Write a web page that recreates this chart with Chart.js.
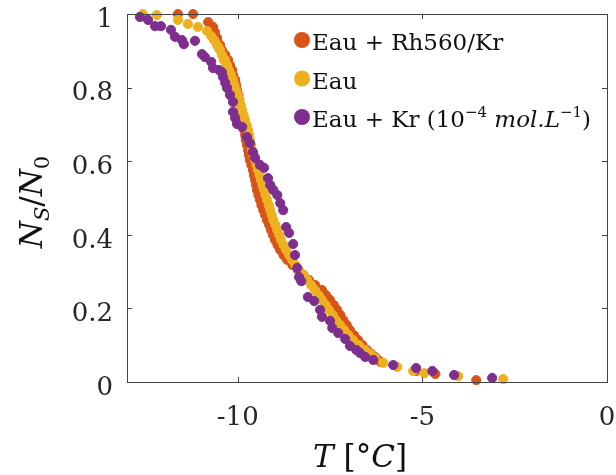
<!DOCTYPE html>
<html>
<head>
<meta charset="utf-8">
<script src="https://cdn.jsdelivr.net/npm/chart.js@4.4.1/dist/chart.umd.min.js"></script>
<style>
  body { margin: 0; background: #fff; }
  #wrap { width: 616px; height: 475px; }
</style>
</head>
<body>
<div id="wrap"><canvas id="grafico"></canvas></div>
<script>
// Eau + Rh560/Kr
const rhX = [-11.62, -11.21, -10.80, -10.67, -10.62, -10.56, -10.48, -10.43, -10.34, -10.26, -10.21, -10.15, -10.13, -10.07,
  -10.04, -10.02, -9.98, -9.96, -9.93, -9.91, -9.88, -9.86, -9.84, -9.83, -9.80, -9.78, -9.75, -9.72, -9.70, -9.67,
  -9.63, -9.59, -9.56, -9.53, -9.50, -9.48, -9.44, -9.40, -9.36, -9.31, -9.26, -9.21, -9.15, -9.10, -9.05, -8.99,
  -8.92, -8.85, -8.76, -8.66, -8.52, -8.37, -8.22, -8.07, -7.90, -7.72, -7.61, -7.50, -7.40, -7.31, -7.22, -7.14,
  -7.05, -6.96, -6.85, -6.74, -6.62, -6.50, -6.39, -6.28, -6.20, -6.12, -5.17, -4.65, -3.54];
const rhY = [1.0, 1.0, 0.978, 0.965, 0.951, 0.935, 0.916, 0.902, 0.889, 0.875, 0.861, 0.848, 0.834, 0.821,
  0.807, 0.793, 0.780, 0.766, 0.752, 0.739, 0.725, 0.712, 0.698, 0.685, 0.671, 0.658, 0.644, 0.630, 0.617, 0.603,
  0.590, 0.576, 0.562, 0.549, 0.535, 0.522, 0.508, 0.495, 0.481, 0.467, 0.454, 0.440, 0.427, 0.413, 0.400, 0.386,
  0.372, 0.359, 0.345, 0.332, 0.318, 0.304, 0.291, 0.277, 0.263, 0.250, 0.236, 0.223, 0.209, 0.196, 0.182, 0.168,
  0.155, 0.141, 0.127, 0.114, 0.100, 0.087, 0.077, 0.068, 0.060, 0.054, 0.030, 0.022, 0.005];

// Eau
const eauX = [-12.57, -12.19, -11.62, -11.35, -11.08, -10.83, -10.72, -10.64, -10.56, -10.52, -10.48, -10.43, -10.38,
  -10.34, -10.29, -10.24, -10.18, -10.13, -10.09, -10.05, -10.00, -9.96, -9.92, -9.88, -9.84, -9.80, -9.76, -9.72,
  -9.69, -9.67, -9.64, -9.61, -9.57, -9.53, -9.49, -9.45, -9.41, -9.37, -9.33, -9.29, -9.25, -9.21, -9.16, -9.12,
  -9.08, -9.04, -8.98, -8.93, -8.88, -8.83, -8.76, -8.69, -8.61, -8.53, -8.44, -8.34, -8.23, -8.12, -8.01, -7.91,
  -7.81, -7.72, -7.62, -7.53, -7.43, -7.34, -7.23, -7.12, -7.00, -6.88, -6.72, -6.55, -6.40, -6.28, -6.06, -5.68,
  -5.25, -4.95, -4.03, -2.81];
const eauY = [1.0, 0.997, 0.984, 0.973, 0.965, 0.954, 0.940, 0.929, 0.916, 0.909, 0.902, 0.889, 0.875,
  0.875, 0.861, 0.848, 0.834, 0.821, 0.807, 0.793, 0.780, 0.766, 0.752, 0.739, 0.725, 0.712, 0.698, 0.685,
  0.671, 0.658, 0.644, 0.630, 0.617, 0.603, 0.590, 0.576, 0.562, 0.549, 0.535, 0.522, 0.508, 0.495, 0.481, 0.467,
  0.454, 0.440, 0.427, 0.413, 0.400, 0.386, 0.372, 0.359, 0.345, 0.332, 0.318, 0.304, 0.291, 0.277, 0.263, 0.250,
  0.236, 0.223, 0.209, 0.196, 0.182, 0.168, 0.155, 0.141, 0.127, 0.114, 0.100, 0.087, 0.076, 0.065, 0.052, 0.041,
  0.030, 0.024, 0.016, 0.008];

// Eau + Kr (10^-4 mol/L)
const krX = [-12.65, -12.43, -12.24, -12.08, -11.81, -11.70, -11.51, -11.46, -11.16, -10.97, -10.89, -10.72, -10.67,
  -10.51, -10.43, -10.40, -10.34, -10.29, -10.21, -10.13, -10.13, -10.07, -10.02, -9.88, -9.75, -9.67, -9.59, -9.53,
  -9.40, -9.29, -9.18, -9.12, -9.04, -8.93, -8.85, -8.77, -8.69, -8.61, -8.50, -8.45, -8.39, -8.34, -8.28, -8.10,
  -7.93, -7.77, -7.72, -7.50, -7.44, -7.28, -7.09, -6.96, -6.79, -6.69, -6.55, -6.33, -5.79, -5.17, -4.73, -4.14, -3.11];
const krY = [0.992, 0.984, 0.967, 0.967, 0.957, 0.938, 0.929, 0.918, 0.927, 0.891, 0.883, 0.870, 0.853,
  0.848, 0.842, 0.829, 0.813, 0.799, 0.780, 0.761, 0.734, 0.717, 0.701, 0.693, 0.666, 0.649, 0.625, 0.609,
  0.590, 0.582, 0.554, 0.535, 0.522, 0.508, 0.486, 0.467, 0.421, 0.405, 0.375, 0.345, 0.310, 0.285, 0.274, 0.231,
  0.220, 0.196, 0.177, 0.166, 0.147, 0.133, 0.117, 0.098, 0.087, 0.079, 0.068, 0.060, 0.046, 0.038, 0.030, 0.019, 0.011];

const xTicks = [-10, -5, 0];
const yTicks = [0, 0.2, 0.4, 0.6, 0.8, 1];
const yTickLabels = ['0', '0.2', '0.4', '0.6', '0.8', '1'];

const cores = ['#D95319', '#EDB120', '#7E2F8E'];
const serif = "'DejaVu Serif', 'Liberation Serif', serif";

function pontos(xs, ys) {
  return xs.map((x, i) => ({ x: x, y: ys[i] }));
}

// legenda com partes em italico / expoente
const legenda = [
  [{ t: 'Eau + Rh560/Kr' }],
  [{ t: 'Eau' }],
  [{ t: 'Eau + Kr (10' }, { t: '\u22124', sup: true }, { t: ' ' }, { t: 'mol.L', it: true }, { t: '\u22121', sup: true }, { t: ')' }]
];

const molduraPlugin = {
  id: 'moldura',
  afterDatasetsDraw(chart) {
    const ctx = chart.ctx;
    const a = chart.chartArea;
    const sx = chart.scales.x, sy = chart.scales.y;
    ctx.save();
    ctx.strokeStyle = '#444';
    ctx.lineWidth = 1;
    ctx.strokeRect(Math.round(a.left) + 0.5, Math.round(a.top) + 0.5, Math.round(a.right - a.left), Math.round(a.bottom - a.top));
    ctx.beginPath();
    const tl = 5;
    xTicks.forEach(v => {
      const px = Math.round(sx.getPixelForValue(v)) + 0.5;
      ctx.moveTo(px, a.bottom); ctx.lineTo(px, a.bottom - tl);
      ctx.moveTo(px, a.top); ctx.lineTo(px, a.top + tl);
    });
    yTicks.forEach(v => {
      const py = Math.round(sy.getPixelForValue(v)) + 0.5;
      ctx.moveTo(a.left, py); ctx.lineTo(a.left + tl, py);
      ctx.moveTo(a.right, py); ctx.lineTo(a.right - tl, py);
    });
    ctx.stroke();
    ctx.restore();
  },
  afterDraw(chart) {
    const ctx = chart.ctx;
    const a = chart.chartArea;
    ctx.save();
    ctx.fillStyle = '#111';
    ctx.textBaseline = 'alphabetic';

    // legenda
    let base = a.top + 36;
    legenda.forEach((partes, i) => {
      ctx.beginPath();
      ctx.fillStyle = cores[i];
      ctx.arc(a.right - 305, base - 10, 8, 0, Math.PI * 2);
      ctx.fill();
      ctx.fillStyle = '#111';
      let x = a.right - 295;
      partes.forEach(p => {
        if (p.sup) {
          ctx.font = '15px ' + serif;
          ctx.fillText(p.t, x, base - 10);
        } else {
          ctx.font = (p.it ? 'italic ' : '') + '23px ' + serif;
          ctx.fillText(p.t, x, base);
        }
        x += ctx.measureText(p.t).width;
      });
      base += 38.5;
    });

    // titulo eixo x : T [°C]
    const partesX = [{ t: 'T', it: true }, { t: ' [\u00B0' }, { t: 'C', it: true }, { t: ']' }];
    let w = 0;
    partesX.forEach(p => {
      ctx.font = (p.it ? 'italic ' : '') + '31px ' + serif;
      w += ctx.measureText(p.t).width;
    });
    let x = (a.left + a.right) / 2 - 7 - w / 2;
    partesX.forEach(p => {
      ctx.font = (p.it ? 'italic ' : '') + '31px ' + serif;
      ctx.fillText(p.t, x, 467);
      x += ctx.measureText(p.t).width;
    });

    // titulo eixo y : N_S / N_0
    const partesY = [{ t: 'N', it: true }, { t: 'S', it: true, sub: true }, { t: '/' }, { t: 'N', it: true }, { t: '0', sub: true }];
    const fonteY = p => (p.it ? 'italic ' : '') + (p.sub ? '21px ' : '31px ') + serif;
    w = 0;
    partesY.forEach(p => { ctx.font = fonteY(p); w += ctx.measureText(p.t).width; });
    ctx.translate(42, (a.top + a.bottom) / 2 + 4);
    ctx.rotate(-Math.PI / 2);
    x = -w / 2;
    partesY.forEach(p => {
      ctx.font = fonteY(p);
      ctx.fillText(p.t, x, p.sub ? 7 : 0);
      x += ctx.measureText(p.t).width;
    });
    ctx.restore();
  }
};

const ctx = document.getElementById('grafico').getContext('2d');

new Chart(ctx, {
  type: 'scatter',
  data: {
    datasets: [
      { label: 'Eau + Kr (10\u207B\u2074 mol.L\u207B\u00B9)', data: pontos(krX, krY), backgroundColor: cores[2], borderColor: cores[2], pointRadius: 4.6, order: 0, clip: false },
      { label: 'Eau', data: pontos(eauX, eauY), backgroundColor: cores[1], borderColor: cores[1], pointRadius: 4.6, order: 1, clip: false },
      { label: 'Eau + Rh560/Kr', data: pontos(rhX, rhY), backgroundColor: cores[0], borderColor: cores[0], pointRadius: 4.6, order: 2, clip: false }
    ]
  },
  options: {
    responsive: true,
    maintainAspectRatio: false,
    animation: false,
    layout: { padding: { top: 14, right: 9, left: 0, bottom: 0 } },
    scales: {
      x: {
        type: 'linear',
        min: -13,
        max: 0,
        grid: { display: false, drawTicks: false },
        border: { display: false },
        afterBuildTicks: s => { s.ticks = xTicks.map(v => ({ value: v })); },
        afterFit: s => { s.height = 93; s.paddingLeft = 0; s.paddingRight = 0; },
        ticks: { color: '#262626', padding: 21, font: { family: serif, size: 26 } }
      },
      y: {
        min: 0,
        max: 1,
        grid: { display: false, drawTicks: false },
        border: { display: false },
        afterBuildTicks: s => { s.ticks = yTicks.map(v => ({ value: v })); },
        afterFit: s => { s.width = 127; s.paddingTop = 0; s.paddingBottom = 0; },
        ticks: {
          color: '#262626',
          padding: 14,
          labelOffset: 6,
          font: { family: serif, size: 26 },
          callback: (v) => yTickLabels[yTicks.indexOf(v)]
        }
      }
    },
    plugins: {
      legend: { display: false },
      tooltip: { enabled: false }
    }
  },
  plugins: [molduraPlugin]
});
</script>
</body>
</html>
